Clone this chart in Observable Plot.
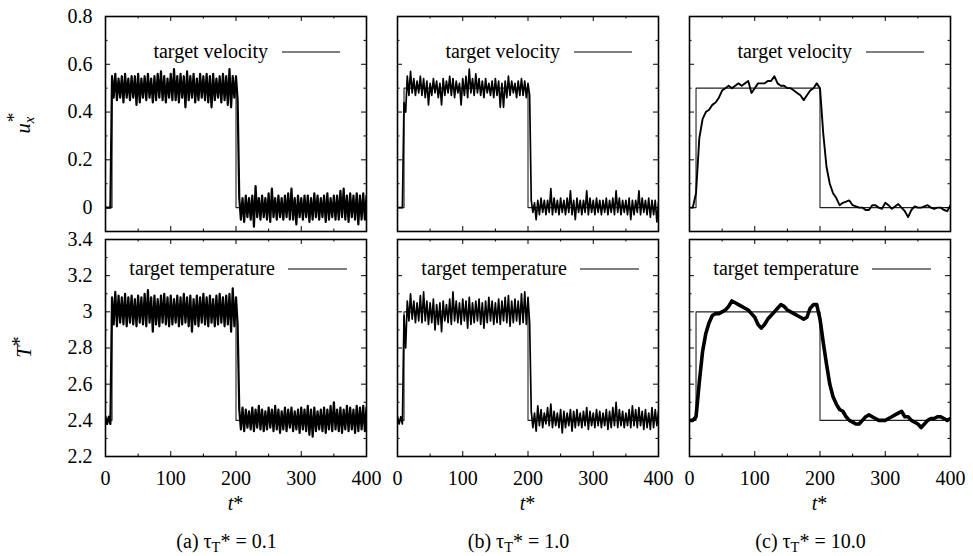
<!DOCTYPE html>
<html><head><meta charset="utf-8">
<script src="https://cdn.jsdelivr.net/npm/d3@7"></script>
<script src="https://cdn.jsdelivr.net/npm/@observablehq/plot@0.6"></script>
<style>
body{margin:0;background:#fff;}
#fig{position:relative;width:973px;height:556px;overflow:hidden;font-family:"Liberation Serif","Times New Roman",Times,serif;color:#000;background:#fff;}
#fig svg{position:absolute;overflow:visible;}
.lbl{position:absolute;font-size:20px;white-space:nowrap;transform:translate(-50%,-50%);line-height:1;}
.ylbl{position:absolute;font-size:20.5px;white-space:nowrap;transform:translate(-50%,-50%) rotate(-90deg);line-height:1;}
.sub{position:relative;top:0.3em;font-size:0.72em;}
</style></head><body><div id="fig"></div>
<script>
// ---------------- data ----------------
const tGrid = [
  0,5,10,15,20,25,30,35,40,45,
  50,55,60,65,70,75,80,85,90,95,
  100,105,110,115,120,125,130,135,140,145,
  150,155,160,165,170,175,180,185,190,195,
  200,205,210,215,220,225,230,235,240,245,
  250,255,260,265,270,275,280,285,290,295,
  300,305,310,315,320,325,330,335,340,345,
  350,355,360,365,370,375,380,385,390,395,
  400];

// (a) tau_T* = 0.1 : upper / lower excursions of the noisy signal
const velHiA = [
  0,0,0.55,0.56,0.54,0.55,0.56,0.54,0.55,0.55,
  0.56,0.54,0.55,0.56,0.54,0.55,0.56,0.57,0.55,0.54,
  0.56,0.58,0.55,0.56,0.55,0.57,0.55,0.56,0.54,0.56,
  0.55,0.56,0.55,0.56,0.54,0.55,0.56,0.55,0.58,0.55,
  0.55,0.04,0.04,0.05,0.04,0.05,0.09,0.04,0.05,0.04,
  0.06,0.08,0.04,0.05,0.04,0.05,0.06,0.08,0.04,0.05,
  0.04,0.05,0.05,0.04,0.06,0.05,0.04,0.05,0.06,0.04,
  0.05,0.05,0.07,0.08,0.05,0.06,0.05,0.06,0.05,0.06,
  0.05];
const velLoA = [
  0,0,0.46,0.45,0.46,0.44,0.46,0.45,0.46,0.43,
  0.44,0.46,0.45,0.46,0.44,0.45,0.46,0.45,0.44,0.46,
  0.45,0.45,0.44,0.46,0.42,0.45,0.46,0.44,0.45,0.46,
  0.45,0.44,0.42,0.45,0.46,0.44,0.45,0.43,0.42,0.46,
  0.45,-0.05,-0.06,-0.04,-0.05,-0.08,-0.04,-0.05,-0.04,-0.05,
  -0.06,-0.04,-0.05,-0.04,-0.05,-0.04,-0.05,-0.05,-0.07,-0.04,
  -0.05,-0.04,-0.06,-0.05,-0.04,-0.05,-0.04,-0.06,-0.05,-0.04,
  -0.05,-0.05,-0.04,-0.05,-0.06,-0.04,-0.05,-0.07,-0.05,-0.05,
  -0.04];
const tempHiA = [
  2.42,2.42,3.08,3.11,3.09,3.08,3.10,3.08,3.09,3.07,
  3.09,3.08,3.10,3.12,3.08,3.09,3.07,3.09,3.10,3.08,
  3.09,3.07,3.09,3.08,3.10,3.08,3.09,3.07,3.09,3.08,
  3.10,3.08,3.09,3.07,3.09,3.10,3.08,3.09,3.10,3.13,
  3.08,2.46,2.47,2.46,2.45,2.47,2.46,2.48,2.46,2.45,
  2.47,2.46,2.48,2.46,2.45,2.47,2.46,2.47,2.45,2.46,
  2.47,2.46,2.48,2.46,2.47,2.45,2.46,2.47,2.46,2.48,
  2.50,2.46,2.47,2.46,2.48,2.47,2.46,2.48,2.47,2.48,
  2.47];
const tempLoA = [
  2.38,2.38,2.93,2.92,2.94,2.93,2.92,2.94,2.93,2.92,
  2.94,2.93,2.92,2.94,2.89,2.93,2.92,2.94,2.93,2.92,
  2.93,2.94,2.92,2.93,2.94,2.92,2.89,2.93,2.92,2.94,
  2.93,2.92,2.94,2.92,2.93,2.94,2.92,2.93,2.89,2.92,
  2.93,2.35,2.34,2.36,2.35,2.34,2.36,2.35,2.34,2.35,
  2.36,2.34,2.35,2.33,2.35,2.34,2.36,2.34,2.35,2.33,
  2.35,2.34,2.32,2.31,2.34,2.35,2.34,2.33,2.35,2.34,
  2.35,2.34,2.33,2.35,2.34,2.35,2.33,2.34,2.35,2.34,
  2.35];

// (b) tau_T* = 1.0
const velHiB = [
  0,0,0.44,0.55,0.57,0.54,0.53,0.55,0.54,0.53,
  0.52,0.54,0.53,0.52,0.54,0.53,0.55,0.54,0.53,0.52,
  0.54,0.55,0.58,0.54,0.56,0.54,0.53,0.54,0.52,0.53,
  0.54,0.53,0.52,0.53,0.55,0.53,0.52,0.53,0.54,0.53,
  0.52,0.03,0.02,0.03,0.04,0.03,0.03,0.08,0.04,0.03,
  0.04,0.03,0.04,0.07,0.03,0.04,0.03,0.03,0.07,0.04,
  0.03,0.04,0.03,0.03,0.04,0.03,0.04,0.07,0.04,0.03,
  0.03,0.04,0.03,0.03,0.07,0.04,0.03,0.04,0.03,0.03,
  0.02];
const velLoB = [
  0,0,0.40,0.47,0.48,0.47,0.48,0.47,0.46,0.43,
  0.47,0.48,0.46,0.43,0.47,0.48,0.47,0.46,0.48,0.43,
  0.47,0.46,0.48,0.47,0.48,0.47,0.46,0.48,0.47,0.46,
  0.47,0.42,0.42,0.46,0.47,0.48,0.46,0.47,0.47,0.46,
  0.47,-0.02,-0.05,-0.03,-0.02,-0.03,-0.02,-0.03,-0.02,-0.03,
  -0.02,-0.03,-0.02,-0.03,-0.05,-0.02,-0.03,-0.02,-0.03,-0.02,
  -0.03,-0.02,-0.03,-0.02,-0.03,-0.02,-0.03,-0.02,-0.03,-0.02,
  -0.03,-0.05,-0.03,-0.02,-0.03,-0.02,-0.03,-0.04,-0.03,-0.06,
  -0.04];
const tempHiB = [
  2.42,2.42,2.98,3.06,3.10,3.06,3.05,3.09,3.11,3.06,
  3.05,3.07,3.04,3.05,3.06,3.04,3.07,3.11,3.06,3.05,
  3.07,3.06,3.08,3.05,3.06,3.07,3.05,3.06,3.08,3.06,
  3.05,3.07,3.06,3.08,3.09,3.06,3.07,3.06,3.10,3.11,
  3.08,2.45,2.44,2.48,2.46,2.44,2.47,2.49,2.45,2.44,
  2.46,2.45,2.44,2.46,2.45,2.46,2.44,2.45,2.47,2.45,
  2.44,2.46,2.45,2.44,2.46,2.45,2.47,2.50,2.46,2.45,
  2.44,2.46,2.48,2.46,2.47,2.45,2.46,2.44,2.47,2.46,
  2.45];
const tempLoB = [
  2.38,2.38,2.80,2.95,2.96,2.94,2.95,2.94,2.95,2.93,
  2.94,2.90,2.93,2.89,2.95,2.94,2.93,2.95,2.94,2.93,
  2.95,2.91,2.93,2.94,2.95,2.93,2.91,2.94,2.95,2.93,
  2.94,2.93,2.95,2.94,2.92,2.94,2.95,2.93,2.94,2.93,
  2.94,2.36,2.34,2.37,2.36,2.38,2.37,2.36,2.37,2.36,
  2.33,2.36,2.37,2.34,2.36,2.37,2.36,2.37,2.35,2.37,
  2.36,2.37,2.36,2.37,2.35,2.36,2.37,2.36,2.37,2.36,
  2.37,2.36,2.37,2.36,2.37,2.35,2.36,2.35,2.36,2.37,
  2.36];

// (c) tau_T* = 10.0 : smoother response
const velC = [
  0,0,0.06,0.29,0.37,0.40,0.41,0.43,0.44,0.46,
  0.49,0.50,0.51,0.50,0.51,0.52,0.51,0.52,0.53,0.48,
  0.50,0.52,0.52,0.52,0.53,0.53,0.55,0.52,0.51,0.51,
  0.50,0.50,0.49,0.48,0.47,0.45,0.47,0.49,0.50,0.52,
  0.50,0.31,0.17,0.10,0.06,0.04,0.01,0.02,0.025,0.03,
  0.01,0.005,0,0,-0.01,-0.01,0.01,0.01,0,-0.005,
  0.02,0.01,-0.005,0.005,0.015,0,-0.015,-0.04,-0.01,0.005,
  0,0,0.005,0.01,0,-0.005,0,0,-0.01,-0.015,
  0.01];
const tempC = [
  2.40,2.40,2.42,2.61,2.78,2.88,2.94,2.98,2.99,2.99,
  3.00,3.01,3.03,3.06,3.05,3.04,3.03,3.02,3.01,2.99,
  2.97,2.93,2.91,2.93,2.96,2.98,3.00,3.02,3.04,3.03,
  3.01,3.00,2.99,2.98,2.97,2.96,2.97,3.02,3.04,3.04,
  2.96,2.83,2.71,2.60,2.53,2.49,2.46,2.45,2.42,2.40,
  2.39,2.38,2.38,2.40,2.42,2.43,2.42,2.41,2.40,2.40,
  2.40,2.41,2.42,2.43,2.44,2.45,2.42,2.42,2.40,2.39,
  2.38,2.36,2.38,2.40,2.41,2.41,2.42,2.42,2.41,2.40,
  2.41];

// target (set-point) step functions
const targetTime = [0, 10, 200, 400];
const targetVel = [0, 0.5, 0, 0];
const targetTemp = [2.4, 3.0, 2.4, 2.4];

// axis ticks and labels
const xTickLabels = [0, 100, 200, 300, 400];
const xMinorTicks = [50, 150, 250, 350];
const velTickLabels = [0, 0.2, 0.4, 0.6, 0.8];
const velMinorTicks = [-0.1, 0.1, 0.3, 0.5, 0.7];
const tempTickLabels = [2.2, 2.4, 2.6, 2.8, 3, 3.2, 3.4];
const tempMinorTicks = [2.3, 2.5, 2.7, 2.9, 3.1, 3.3];
const captions = ["(a) τ<span class='sub'>T</span>* = 0.1", "(b) τ<span class='sub'>T</span>* = 1.0", "(c) τ<span class='sub'>T</span>* = 10.0"];
const legendLabels = ["target velocity", "target temperature"];

// ---------------- layout ----------------
const cols = [{l: 105, r: 366}, {l: 397, r: 658}, {l: 689, r: 950}];
const rowsG = [{t: 16, b: 231}, {t: 238.5, b: 455.5}];
const FS = 20;

const fig = document.getElementById("fig");

function zig(hi, lo) {
  const out = [];
  tGrid.forEach((t, i) => { out.push({t, v: hi[i]}); out.push({t: t + 2.5, v: lo[i]}); });
  return out;
}
function series(vals) { return tGrid.map((t, i) => ({t, v: vals[i]})); }
function target(vals) { return targetTime.map((t, i) => ({t, v: vals[i]})); }

function legendMark(label, dy, textEnd, lineStart, lineEnd) {
  return (index, scales, values, dims) => {
    const right = dims.width - dims.marginRight;
    const y = dims.marginTop + dy;
    const g = d3.create("svg:g");
    g.append("text").attr("x", right - textEnd).attr("y", y).attr("dy", "0.32em")
      .attr("text-anchor", "end").attr("font-size", FS).attr("fill", "#000").text(label);
    g.append("line").attr("x1", right - lineStart).attr("x2", right - lineEnd)
      .attr("y1", y).attr("y2", y).attr("stroke", "#000").attr("stroke-width", 1.1);
    return g.node();
  };
}

const dataSets = [
  [zig(velHiA, velLoA), zig(velHiB, velLoB), series(velC)],
  [zig(tempHiA, tempLoA), zig(tempHiB, tempLoB), series(tempC)]
];
const dataWidths = [[2.2, 1.7, 1.9], [2.2, 1.7, 3.6]];

for (let r = 0; r < 2; r++) {
  for (let c = 0; c < 3; c++) {
    const col = cols[c], row = rowsG[r];
    const fw = col.r - col.l, fh = row.b - row.t;
    const mL = c === 0 ? 60 : 5, mR = 5, mT = 5, mB = r === 1 ? 35 : 5;
    const yMajor = r === 0 ? velTickLabels : tempTickLabels;
    const yMinor = r === 0 ? velMinorTicks : tempMinorTicks;
    const tickCol = "#000";
    const marks = [
      Plot.line(target(r === 0 ? targetVel : targetTemp), {x: "t", y: "v", curve: "step-after", stroke: "#222", strokeWidth: 1.1, clip: true}),
      Plot.line(dataSets[r][c], {x: "t", y: "v", stroke: "#000",
        strokeWidth: dataWidths[r][c], strokeLinejoin: "round", clip: true}),
      // inward ticks on all four sides
      Plot.tickY(yMajor, {y: d => d, insetRight: fw - 5, stroke: tickCol}),
      Plot.tickY(yMajor, {y: d => d, insetLeft: fw - 5, stroke: tickCol}),
      Plot.tickY(yMinor, {y: d => d, insetRight: fw - 2.5, stroke: tickCol}),
      Plot.tickY(yMinor, {y: d => d, insetLeft: fw - 2.5, stroke: tickCol}),
      Plot.tickX(xTickLabels, {x: d => d, insetBottom: fh - 5, stroke: tickCol}),
      Plot.tickX(xTickLabels, {x: d => d, insetTop: fh - 5, stroke: tickCol}),
      Plot.tickX(xMinorTicks, {x: d => d, insetBottom: fh - 2.5, stroke: tickCol}),
      Plot.tickX(xMinorTicks, {x: d => d, insetTop: fh - 2.5, stroke: tickCol}),
      Plot.frame({stroke: "#000", strokeWidth: 1.6}),
      legendMark(legendLabels[r], r === 0 ? 36 : 30, r === 0 ? 98 : 91, r === 0 ? 84 : 78, r === 0 ? 26 : 19)
    ];
    if (c === 0) marks.push(Plot.axisY(yMajor, {anchor: "left", tickSize: 0, tickPadding: 13, label: null, fontSize: FS, tickFormat: d => String(d)}));
    if (r === 1) marks.push(Plot.axisX(xTickLabels, {anchor: "bottom", tickSize: 0, tickPadding: 14, label: null, fontSize: FS, tickFormat: d => String(d)}));
    const svg = Plot.plot({
      width: fw + mL + mR,
      height: fh + mT + mB,
      marginLeft: mL, marginRight: mR, marginTop: mT, marginBottom: mB,
      x: {domain: [0, 400], axis: null},
      y: {domain: r === 0 ? [-0.1, 0.8] : [2.2, 3.4], axis: null},
      style: {fontFamily: "'Liberation Serif','Times New Roman',Times,serif", fontSize: FS + "px", background: "transparent", color: "#000", overflow: "visible", maxWidth: "none"},
      marks
    });
    svg.style.left = (col.l - mL) + "px";
    svg.style.top = (row.t - mT) + "px";
    fig.appendChild(svg);
  }
}

// HTML labels
function addLabel(html, x, y, cls) {
  const d = document.createElement("div");
  d.className = cls;
  d.innerHTML = html;
  d.style.left = x + "px";
  d.style.top = y + "px";
  fig.appendChild(d);
}
cols.forEach((col, i) => {
  const cx = (col.l + col.r) / 2;
  addLabel("<i>t</i>*", cx, 503, "lbl");
  addLabel(captions[i], cx - 9, 541, "lbl");
});
addLabel("<i>u</i><span style='position:relative;display:inline-block'><i class='sub'>x</i><span style='position:absolute;left:0.05em;top:-0.45em;font-size:0.95em'>*</span></span>", 23, 125, "ylbl");
addLabel("<i>T</i><span style='position:relative;top:-0.25em'>*</span>", 24, 347, "ylbl");
</script></body></html>
